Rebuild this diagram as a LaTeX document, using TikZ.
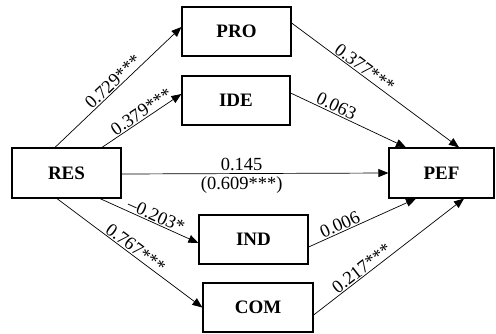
\documentclass[tikz,border=0pt]{standalone}
\usepackage{fontspec}
\setmainfont{Liberation Serif}
\usetikzlibrary{arrows.meta}
\tikzset{
  box/.style={draw, line width=1.2pt, minimum width=109pt, minimum height=49pt, inner sep=0pt, font=\fontsize{19}{21}\selectfont\bfseries},
  arr/.style={line width=0.7pt, -{Triangle[length=10pt,width=8pt]}},
  lab/.style={font=\fontsize{18.5}{20}\selectfont, inner sep=1pt, sloped, above}
}
\begin{document}
\begin{tikzpicture}[x=1pt,y=-1pt]
\useasboundingbox (0,0) rectangle (496,333);
\node[box] (PRO) at (236.5,31.5) {PRO};
\node[box, minimum width=108pt] (IDE) at (236,100.5) {IDE};
\node[box, minimum height=50pt] (RES) at (66.5,173) {RES};
\node[box, minimum width=105pt, minimum height=50pt] (PEF) at (441.5,173) {PEF};
\node[box] (IND) at (253.5,239.5) {IND};
\node[box, minimum width=110pt] (COM) at (258,307.5) {COM};

\draw[arr] ([xshift=-11.5pt]RES.north) -- node[lab, pos=0.5] {0.729***} ([yshift=4.5pt]PRO.west);
\draw[arr] ([xshift=35.5pt]RES.north) -- node[lab, pos=0.55] {0.379***} ([yshift=6.5pt]IDE.west);
\draw[arr] ([yshift=8.5pt]PRO.east) -- node[lab, pos=0.41] {0.377***} ([xshift=17.5pt]PEF.north);
\draw[arr] ([yshift=7.5pt]IDE.east) -- node[lab, pos=0.37] {0.063} ([xshift=-35.5pt]PEF.north);
\draw[arr] ([yshift=-1pt]RES.east) -- node[lab, pos=0.45, inner sep=2.5pt] {0.145} node[lab, pos=0.45, below, inner sep=2.5pt] {(0.609***)} ([yshift=0pt]PEF.west);
\draw[arr] ([xshift=33.5pt]RES.south) -- node[lab, pos=0.54] {–0.203*} ([yshift=-3.5pt]IND.west);
\draw[arr] ([xshift=-9.5pt]RES.south) -- node[lab, pos=0.51] {0.767***} (COM.west);
\draw[arr] ([yshift=-7.5pt]IND.east) -- node[lab, pos=0.32] {0.006} ([xshift=-25.5pt]PEF.south);
\draw[arr] ([yshift=-7.5pt]COM.east) -- node[lab, pos=0.35] {0.217***} ([xshift=22.5pt]PEF.south);
\end{tikzpicture}
\end{document}
